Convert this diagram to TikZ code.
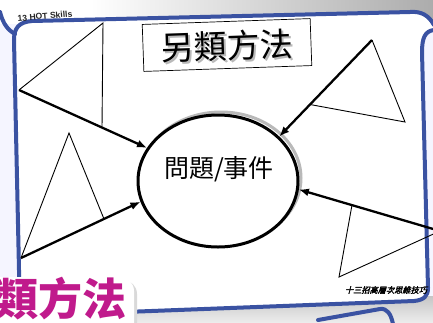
\documentclass[tikz,border=0pt]{standalone}
\usepackage{fontspec}
\usepackage{tikz}
\usetikzlibrary{arrows.meta}
\usetikzlibrary{shapes.geometric}
\setsansfont{Liberation Sans}
\newfontfamily\cjk{Noto Sans CJK TC}
\newfontfamily\cjkslant[FakeSlant=0.25,FakeBold=2.5]{Noto Sans CJK TC}
\definecolor{cardblue}{RGB}{58,82,162}
\definecolor{tagpink}{RGB}{192,26,140}
\tikzstyle{card}=[line width=4pt,draw=cardblue,line cap=round]
\tikzstyle{tri}=[line width=.9pt]
\tikzstyle{pointer}=[line width=2.3pt,-{Latex[length=10pt,width=8pt]}]
\tikzstyle{heading}=[font=\cjk\fontsize{33}{33}\selectfont,inner sep=0pt,rotate=2]
\tikzstyle{bubble}=[ellipse,line width=3pt,minimum width=160pt,minimum height=132pt]

\begin{document}
\begin{tikzpicture}[x=1pt,y=-1pt]
	\useasboundingbox (0,0) rectangle (433,322);
	% background and slide card
	\fill[blue!4] (0,0) rectangle (433,322);
	\shade[left color=white,right color=gray!65] (90,0) rectangle (433,24);
	\fill[white] (0,0) rectangle (90,24);
	\shade[top color=gray!45,bottom color=gray!15] (0,296) rectangle (433,322);
	\fill[white] (14,40) .. controls (14,28) and (19,22) .. (32,21) -- (410,12)
		.. controls (422,11) and (429,16) .. (433,24) -- (433,30)
		.. controls (425,31) and (422,38) .. (422,52) -- (428,288)
		.. controls (428,296) and (424,300) .. (414,301) -- (20,316) -- cycle;
	\draw[card] (20,316) -- (14,40) .. controls (14,28) and (19,22) .. (32,21) -- (410,12)
		.. controls (422,11) and (429,16) .. (434,25);
	\draw[card] (434,30) .. controls (425,31) and (422,38) .. (422,52) -- (428,288)
		.. controls (428,296) and (424,300) .. (414,301) -- (20,316);
	\draw[card] (0,12) .. controls (3,24) and (8,30) .. (15,34);
	\draw[card] (318,320) -- (380,309) .. controls (387,308) and (391,314) .. (393,324);
	\node[rotate=5,font=\sffamily\bfseries\fontsize{8.6}{8.6}\selectfont,text=black!85] (hot) at (45,16) {13 HOT Skills};

	% title
	\node[draw,line width=.7pt,fill=white,rotate=2,minimum width=168pt,minimum height=47pt] (titlebox) at (227,45) {};
	\node[heading,text=gray!55] (titleshadow) at (229,48) {另類方法};
	\node[heading] (title) at (227,46) {另類方法};

	% centre
	\node[bubble,draw=gray!55] (issueshadow) at (221,178) {};
	\node[bubble,draw,fill=white] (issue) at (218,181) {};
	\node[font=\cjk\fontsize{25}{25}\selectfont,inner sep=0pt] (issuetext) at (219,169) {問題/事件};

	% triangles
	\coordinate (a1) at (19,90);   \coordinate (a2) at (103,23);  \coordinate (a3) at (102,128);
	\coordinate (b1) at (21,258);  \coordinate (b2) at (69,133);  \coordinate (b3) at (104,219);
	\coordinate (c1) at (372,40);  \coordinate (c2) at (405,122); \coordinate (c3) at (310,104.5);
	\coordinate (d1) at (440,231); \coordinate (d2) at (339,277); \coordinate (d3) at (352,205);
	\draw[tri] (a1) -- (a2) -- (a3);
	\draw[tri] (b1) -- (b2) -- (b3);
	\draw[tri] (c3) -- (c2) -- (c1);
	\draw[tri] (d3) -- (d2) -- (d1);
	\draw[pointer] (a1) -- (issue.155);
	\draw[pointer] (b1) -- (issue.195);
	\draw[pointer] (c1) -- (issue.36);
	\draw[pointer] (d1) -- (issue.354);

	% footer
	\node[font=\cjkslant\fontsize{8.2}{8.2}\selectfont,inner sep=0pt] (motto) at (386,290) {十三招高層次思維技巧};
	\fill[gray!30,rounded corners=14pt] (-20,280) rectangle (137,340);
	\fill[white,rounded corners=14pt] (-20,277) rectangle (134,340);
	\node[font=\cjk\bfseries\fontsize{44}{44}\selectfont,text=tagpink,anchor=east,inner sep=0pt] (tag) at (127,299) {另類方法};
\end{tikzpicture}
\end{document}
